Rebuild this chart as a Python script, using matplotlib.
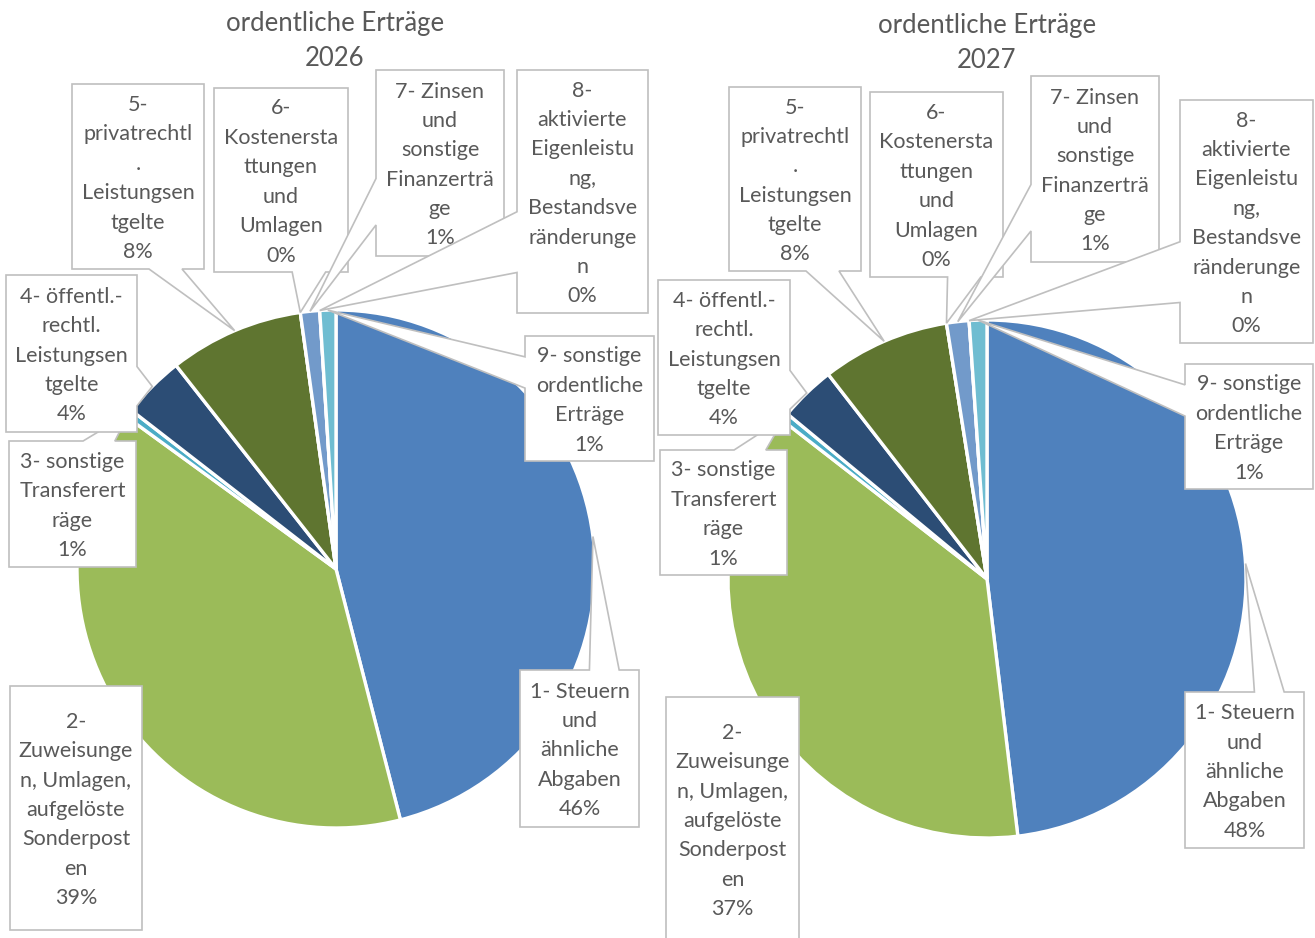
import math
import matplotlib.pyplot as plt
from matplotlib.patches import Polygon

plt.rcParams['font.family'] = ['Lato', 'DejaVu Sans']

# figure size in pixels
W, H = 1315, 938

# data
categories = [
    "1- Steuern\nund\nähnliche\nAbgaben",
    "2-\nZuweisunge\nn, Umlagen,\naufgelöste\nSonderpost\nen",
    "3- sonstige\nTransferert\nräge",
    "4- öffentl.-\nrechtl.\nLeistungsen\ntgelte",
    "5-\nprivatrechtl\n.\nLeistungsen\ntgelte",
    "6-\nKostenersta\nttungen\nund\nUmlagen",
    "7- Zinsen\nund\nsonstige\nFinanzerträ\nge",
    "8-\naktivierte\nEigenleistu\nng,\nBestandsve\nränderunge\nn",
    "9- sonstige\nordentliche\nErträge",
]
ertraege_2026 = [46.0, 39.0, 0.5, 3.9, 8.4, 0.0, 1.2, 0.0, 1.0]
ertraege_2027 = [48.1, 37.4, 0.5, 3.5, 8.0, 0.0, 1.4, 0.0, 1.1]
titles = ["ordentliche Erträge\n2026", "ordentliche Erträge\n2027"]

colors = ['#4F81BD', '#9BBB59', '#4BACC6', '#2C4D75', '#5F7530',
          '#276A7C', '#729ACA', '#AFC97A', '#6FBDD1']

# layout (pixel coordinates, origin top left)
R = 259
centers = [(336, 569), (987, 579)]
title_pos = [(335, 23), (987, 25)]
boxes_2026 = [(520, 670, 639, 827), (10, 686, 142, 930), (9, 441, 136, 567),
              (6, 275, 137, 432), (72, 84, 204, 269), (214, 88, 348, 272),
              (376, 70, 504, 256), (517, 70, 648, 313), (525, 336, 654, 461)]
boxes_2027 = [(1185, 692, 1304, 848), (666, 697, 799, 941), (660, 450, 787, 575),
              (658, 280, 790, 435), (729, 87, 861, 271), (870, 92, 1003, 277),
              (1031, 76, 1159, 262), (1180, 100, 1313, 343), (1185, 364, 1313, 489)]
LINE = 29.4
TEXT = '#595959'


def callout(box, tx, ty):
    # Excel style wedge rectangle callout
    x0, y0, x1, y1 = box
    w, h = x1 - x0, y1 - y0
    dx, dy = tx - (x0 + x1) / 2, ty - (y0 + y1) / 2
    if x0 <= tx <= x1 and y0 <= ty <= y1:
        return [(x0, y0), (x1, y0), (x1, y1), (x0, y1)]
    if abs(dy) > abs(dx * h / w):
        a, b = (x0 + w * 7 / 12, x0 + w * 10 / 12) if dx > 0 else (x0 + w * 2 / 12, x0 + w * 5 / 12)
        if dy < 0:
            return [(x0, y0), (a, y0), (tx, ty), (b, y0), (x1, y0), (x1, y1), (x0, y1)]
        return [(x0, y0), (x1, y0), (x1, y1), (b, y1), (tx, ty), (a, y1), (x0, y1)]
    a, b = (y0 + h * 7 / 12, y0 + h * 10 / 12) if dy > 0 else (y0 + h * 2 / 12, y0 + h * 5 / 12)
    if dx < 0:
        return [(x0, y0), (x1, y0), (x1, y1), (x0, y1), (x0, b), (tx, ty), (x0, a)]
    return [(x0, y0), (x1, y0), (x1, a), (tx, ty), (x1, b), (x1, y1), (x0, y1)]


fig = plt.figure(figsize=(W / 100, H / 100), dpi=100)
ax = fig.add_axes([0, 0, 1, 1])

for values, (cx, cy), boxes, title, (ttx, tty) in zip(
        [ertraege_2026, ertraege_2027], centers, [boxes_2026, boxes_2027], titles, title_pos):
    wedges, _ = ax.pie(values, colors=colors, startangle=-90, counterclock=True,
                       center=(cx, cy), radius=R,
                       wedgeprops=dict(edgecolor='white', linewidth=2.4))
    total = sum(values)
    for i, (wdg, box) in enumerate(zip(wedges, boxes)):
        mid = math.radians((wdg.theta1 + wdg.theta2) / 2)
        tx, ty = cx + R * math.cos(mid), cy + R * math.sin(mid)
        ax.add_patch(Polygon(callout(box, tx, ty), closed=True, facecolor='white',
                             edgecolor='#BFBFBF', linewidth=1.2, zorder=3 + i))
        pct = int(values[i] / total * 100 + 0.5 + 1e-9)
        lines = categories[i].split('\n') + [f"{pct}%"]
        bx, by = (box[0] + box[2]) / 2, (box[1] + box[3]) / 2 + 2
        n = len(lines)
        for j, line in enumerate(lines):
            ax.text(bx, by + (j - (n - 1) / 2) * LINE, line, ha='center', va='center',
                    fontsize=15.5, color=TEXT, zorder=3 + i)
    for j, line in enumerate(title.split('\n')):
        ax.text(ttx, tty + j * 35, line, ha='center', va='center', fontsize=18.5, color=TEXT)

ax.set_xlim(0, W)
ax.set_ylim(H, 0)
ax.set_aspect('auto')
ax.axis('off')

fig.savefig('out.png', dpi=100, facecolor='white')
